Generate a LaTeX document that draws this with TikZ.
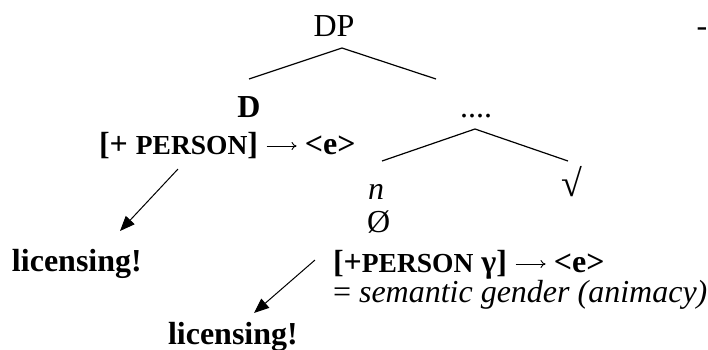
\documentclass[tikz,border=0pt]{standalone}
\usepackage{fontspec}
\setmainfont{Liberation Serif}
\usetikzlibrary{arrows.meta}
\newcommand{\persn}{{\fontsize{27.5}{31}\selectfont PERSON}}
\newcommand{\thinarrow}{\tikz[baseline=0pt,x=1pt,y=1pt]\draw[line width=0.9pt,-{To[length=5pt,width=8pt]}] (0,8) -- (30,8);}
\begin{document}
\begin{tikzpicture}[x=1pt,y=-1pt,
  every node/.style={inner sep=0pt,outer sep=0pt,font=\fontsize{32}{38}\selectfont},
  branch/.style={line width=1.2pt},
  licarrow/.style={line width=1pt,-{Triangle[length=15pt,width=12pt]}}]
\useasboundingbox (0,0) rectangle (708,349);
% texts
\node[anchor=base] (dp) at (334,36) {DP};
\node[anchor=base] (dash) at (702,36) {-};
\node[anchor=base] (d) at (249,117) {\bfseries D};
\node[anchor=base] (dots) at (476,117) {....};
\node[anchor=base west] (dfeat) at (99,154) {\bfseries [+ \persn] \thinarrow\ <e>};
\node[anchor=base west] (n) at (368,199) {\itshape n};
\node[anchor=base, font=\fontsize{38}{44}\selectfont] (root) at (572,196) {√};
\node[anchor=base west] (zero) at (367,232) {Ø};
\node[anchor=base west] (nfeat) at (333,272) {\bfseries [+\persn\ γ] \thinarrow\ <e>};
\node[anchor=base west] (sem) at (333,302) {= \itshape semantic gender (animacy)};
\node[anchor=base west] (lic1) at (12,271) {\bfseries licensing!};
\node[anchor=base west] (lic2) at (168,344) {\bfseries licensing!};
% tree branches
\coordinate (apex1) at (342,48);
\coordinate (leftA) at (249,79);
\coordinate (rightA) at (436,79);
\coordinate (apex2) at (475,129);
\coordinate (leftB) at (382,161);
\coordinate (rightB) at (568,161);
\draw[branch] (leftA) -- (apex1) -- (rightA);
\draw[branch] (leftB) -- (apex2) -- (rightB);
% licensing arrows
\coordinate (a1s) at (178,169);
\coordinate (a1e) at (120,231);
\coordinate (a2s) at (315,260);
\coordinate (a2e) at (254,313);
\draw[licarrow] (a1s) -- (a1e);
\draw[licarrow] (a2s) -- (a2e);
\end{tikzpicture}
\end{document}
